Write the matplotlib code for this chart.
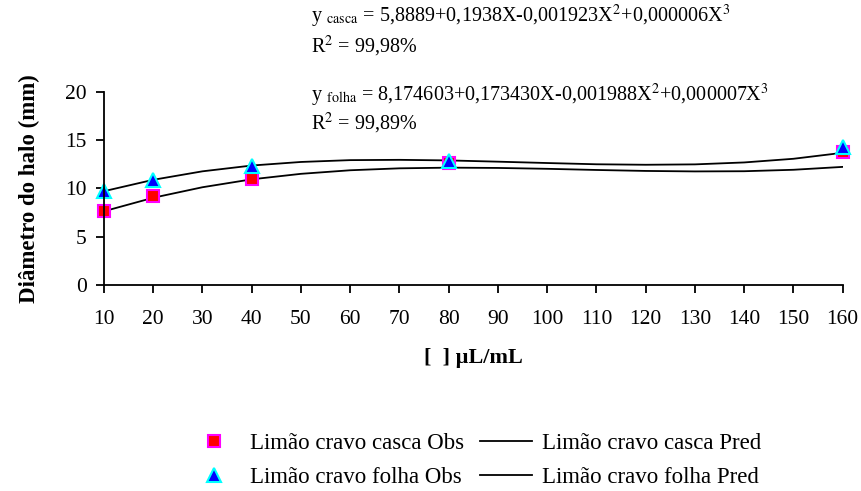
import matplotlib
matplotlib.use("Agg")
import matplotlib.pyplot as plt

plt.rcParams['font.family'] = ['Liberation Serif', 'DejaVu Serif']
plt.rcParams['mathtext.fontset'] = 'stix'

# concentracao (uL/mL) e diametro observado (mm)
conc_obs = [10, 20, 40, 80, 160]
casca_obs = [7.7, 9.2, 11.0, 12.6, 13.8]
folha_obs = [9.7, 10.9, 12.3, 12.9, 14.3]

# valores preditos
conc_pred = [10, 20, 30, 40, 50, 60, 70, 80, 90, 100, 110, 120, 130, 140, 150, 160]
casca_pred = [7.64, 9.04, 10.13, 10.95, 11.52, 11.89, 12.09, 12.16, 12.13, 12.04,
              11.92, 11.82, 11.77, 11.79, 11.94, 12.24]
folha_pred = [9.72, 10.90, 11.78, 12.38, 12.75, 12.94, 12.97, 12.91, 12.78, 12.64,
              12.51, 12.46, 12.50, 12.70, 13.08, 13.70]

xticks = list(range(10, 161, 10))
yticks = [0, 5, 10, 15, 20]

fig = plt.figure(figsize=(8.62, 4.91), dpi=100)
ax = fig.add_axes([0.1206, 0.4196, 0.857, 0.393])

l1, = ax.plot(conc_pred, casca_pred, color='black', lw=1.3, label='Limão cravo casca Pred')
l2, = ax.plot(conc_pred, folha_pred, color='black', lw=1.3, label='Limão cravo folha Pred')
m1, = ax.plot(conc_obs, casca_obs, 's', ms=8.5, mfc='red', mec='magenta', mew=1.5,
              label='Limão cravo casca Obs', clip_on=False)
m2, = ax.plot(conc_obs, folha_obs, '^', ms=9.5, mfc='blue', mec='cyan', mew=1.5,
              label='Limão cravo folha Obs', clip_on=False)

ax.set_xlim(10, 160)
ax.set_ylim(0, 20)
ax.set_xticks(xticks)
ax.set_yticks(yticks)
ax.tick_params(labelsize=15.5, width=1.3, length=6, direction='out')
ax.tick_params(axis='x', pad=12)
ax.tick_params(axis='y', pad=6.5)
for s in ['top', 'right']:
    ax.spines[s].set_visible(False)
for s in ['left', 'bottom']:
    ax.spines[s].set_linewidth(1.3)

ax.set_ylabel('Diâmetro do halo (mm)', fontsize=16.5, fontweight='bold', labelpad=18)
ax.set_xlabel('[  ] µL/mL', fontsize=16, fontweight='bold', labelpad=14)

fig.text(0.361, 0.955, r'y $_{\mathrm{casca}}$ = 5,8889+0,1938X-0,001923X$^{2}$+0,000006X$^{3}$',
         fontsize=14.5, va='baseline')
fig.text(0.361, 0.893, r'R$^{2}$ = 99,98%', fontsize=14.5, va='baseline')
fig.text(0.361, 0.794, r'y $_{\mathrm{folha}}$ = 8,174603+0,173430X-0,001988X$^{2}$+0,000007X$^{3}$',
         fontsize=14.5, va='baseline')
fig.text(0.361, 0.736, r'R$^{2}$ = 99,89%', fontsize=14.5, va='baseline')

fig.legend(handles=[m1, m2, l1, l2], ncol=2, loc='center left', bbox_to_anchor=(0.218, 0.062),
           frameon=False, fontsize=16.5, handlelength=2.27, columnspacing=0.7,
           labelspacing=0.55, handletextpad=0.44, borderpad=0, borderaxespad=0)

fig.savefig('out.png', dpi=100)
